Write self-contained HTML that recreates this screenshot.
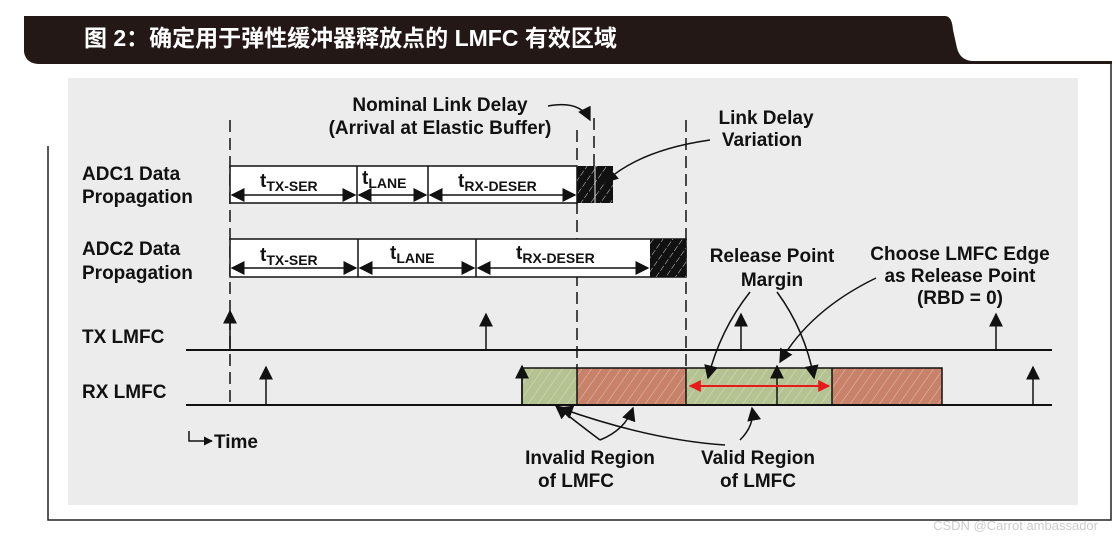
<!DOCTYPE html>
<html><head><meta charset="utf-8"><style>
html,body{margin:0;padding:0;background:#fff;width:1116px;height:540px;overflow:hidden}
svg{display:block}
text{font-family:"Liberation Sans",Arial,sans-serif;font-weight:bold;fill:#111}
</style></head><body>
<svg width="1116" height="540" viewBox="0 0 1116 540" xmlns="http://www.w3.org/2000/svg">
<defs>
<pattern id="hw" width="8" height="8" patternUnits="userSpaceOnUse" patternTransform="rotate(35)">
<line x1="0" y1="0" x2="0" y2="8" stroke="#fff" stroke-width="1" stroke-dasharray="3,2" opacity="0.8"/></pattern>
<pattern id="hl" width="8" height="8" patternUnits="userSpaceOnUse" patternTransform="rotate(35)">
<line x1="0" y1="0" x2="0" y2="8" stroke="#fff" stroke-width="1" opacity="0.5"/></pattern>
<marker id="ah" viewBox="0 0 10 10" refX="9" refY="5" markerWidth="9" markerHeight="9" markerUnits="userSpaceOnUse" orient="auto-start-reverse"><path d="M0,0 L10,5 L0,10z" fill="#111"/></marker>
<marker id="ab" viewBox="0 0 10 10" refX="9" refY="5" markerWidth="14" markerHeight="14" markerUnits="userSpaceOnUse" orient="auto-start-reverse"><path d="M0,0 L10,5 L0,10z" fill="#111"/></marker>
<marker id="ar" viewBox="0 0 10 10" refX="9" refY="5" markerWidth="12" markerHeight="12" markerUnits="userSpaceOnUse" orient="auto-start-reverse"><path d="M0,0 L10,5 L0,10z" fill="#e8191a"/></marker>
</defs>
<path d="M24,16 L945,16 Q952,16 953,30 L957,48 Q960,60 972,61 L1112,61 L1112,64 L40,64 Q26,64 24,52 Z" fill="#231815"/>
<text x="84" y="46" font-size="23" style="fill:#fff;font-family:'Liberation Sans','Noto Sans CJK SC',sans-serif">图 2：确定用于弹性缓冲器释放点的 LMFC 有效区域</text>
<path d="M1111,61 L1111,520 L48,520 L48,146" fill="none" stroke="#222" stroke-width="1.5"/>
<rect x="68" y="78" width="1010" height="427" fill="#ececec"/>
<g stroke="#111" stroke-width="1.5" stroke-dasharray="12,6">
<line x1="230" y1="120" x2="230" y2="405"/>
<line x1="577" y1="130" x2="577" y2="368"/>
<line x1="594" y1="118" x2="594" y2="166"/>
<line x1="686" y1="120" x2="686" y2="368"/>
</g>
<rect x="230" y="166" width="347" height="37" fill="#fff" stroke="#111" stroke-width="1.5"/>
<line x1="357" y1="166" x2="357" y2="203" stroke="#111" stroke-width="1.5"/>
<line x1="428" y1="166" x2="428" y2="203" stroke="#111" stroke-width="1.5"/>
<rect x="577" y="166" width="36" height="37" fill="#111"/><rect x="577" y="166" width="36" height="37" fill="url(#hw)"/>
<line x1="595" y1="166" x2="595" y2="203" stroke="#ececec" stroke-width="1"/>
<g stroke="#111" stroke-width="1.5" marker-start="url(#ab)" marker-end="url(#ab)">
<line x1="232" y1="195" x2="355" y2="195"/><line x1="359" y1="195" x2="426" y2="195"/><line x1="430" y1="195" x2="575" y2="195"/>
</g>
<text x="260" y="187" font-size="19">t<tspan font-size="14" dy="4">TX-SER</tspan></text>
<text x="362" y="184" font-size="19">t<tspan font-size="14" dy="4">LANE</tspan></text>
<text x="458" y="187" font-size="19">t<tspan font-size="14" dy="4">RX-DESER</tspan></text>
<rect x="230" y="239" width="456" height="38" fill="#fff" stroke="#111" stroke-width="1.5"/>
<line x1="358" y1="239" x2="358" y2="277" stroke="#111" stroke-width="1.5"/>
<line x1="476" y1="239" x2="476" y2="277" stroke="#111" stroke-width="1.5"/>
<rect x="650" y="239" width="36" height="38" fill="#111"/><rect x="650" y="239" width="36" height="38" fill="url(#hw)"/>
<g stroke="#111" stroke-width="1.5" marker-start="url(#ab)" marker-end="url(#ab)">
<line x1="232" y1="268" x2="356" y2="268"/><line x1="360" y1="268" x2="474" y2="268"/><line x1="478" y1="268" x2="648" y2="268"/>
</g>
<text x="260" y="261" font-size="19">t<tspan font-size="14" dy="4">TX-SER</tspan></text>
<text x="390" y="259" font-size="19">t<tspan font-size="14" dy="4">LANE</tspan></text>
<text x="516" y="259" font-size="19">t<tspan font-size="14" dy="4">RX-DESER</tspan></text>
<g font-size="19"><text x="82" y="180">ADC1 Data</text><text x="82" y="203">Propagation</text>
<text x="82" y="255">ADC2 Data</text><text x="82" y="279">Propagation</text>
<text x="82" y="343">TX LMFC</text><text x="82" y="398">RX LMFC</text>
<text x="214" y="448">Time</text></g>
<path d="M189,431 L189,441 L212,441" fill="none" stroke="#111" stroke-width="1.5" marker-end="url(#ah)"/>
<rect x="522" y="368" width="55" height="37" fill="#b5c291"/>
<rect x="577" y="368" width="109" height="37" fill="#c9826a"/>
<rect x="686" y="368" width="146" height="37" fill="#b5c291"/>
<rect x="832" y="368" width="110" height="37" fill="#c9826a"/>
<rect x="522" y="368" width="420" height="37" fill="url(#hl)"/>
<g fill="none" stroke="#111" stroke-width="1.5">
<rect x="522" y="368" width="420" height="37"/>
<line x1="577" y1="368" x2="577" y2="405"/><line x1="686" y1="368" x2="686" y2="405"/><line x1="832" y1="368" x2="832" y2="405"/>
</g>
<line x1="186" y1="350" x2="1052" y2="350" stroke="#111" stroke-width="2"/>
<line x1="186" y1="405" x2="1052" y2="405" stroke="#111" stroke-width="2"/>
<g stroke="#111" stroke-width="1.5" marker-end="url(#ab)">
<line x1="230" y1="350" x2="230" y2="311"/><line x1="486" y1="350" x2="486" y2="314"/><line x1="741" y1="350" x2="741" y2="314"/><line x1="996" y1="350" x2="996" y2="314"/>
<line x1="266" y1="405" x2="266" y2="367"/><line x1="522" y1="405" x2="522" y2="366"/><line x1="777" y1="405" x2="777" y2="366"/><line x1="1033" y1="405" x2="1033" y2="367"/>
</g>
<line x1="690" y1="386" x2="829" y2="386" stroke="#e8191a" stroke-width="2" marker-start="url(#ar)" marker-end="url(#ar)"/>
<g font-size="19" text-anchor="middle">
<text x="440" y="111">Nominal Link Delay</text><text x="440" y="134">(Arrival at Elastic Buffer)</text>
<text x="766" y="124">Link Delay</text><text x="762" y="146">Variation</text>
<text x="772" y="262">Release Point</text><text x="772" y="286">Margin</text>
<text x="960" y="260">Choose LMFC Edge</text><text x="960" y="282">as Release Point</text><text x="960" y="304">(RBD = 0)</text>
<text x="590" y="464">Invalid Region</text><text x="576" y="487">of LMFC</text>
<text x="758" y="464">Valid Region</text><text x="758" y="487">of LMFC</text>
</g>
<g fill="none" stroke="#111" stroke-width="1.5" marker-end="url(#ab)">
<path d="M548,106 Q580,100 590,120"/>
<path d="M710,140 Q640,150 605,182"/>
<path d="M750,292 Q720,330 708,378"/>
<path d="M777,292 Q805,330 814,378"/>
<path d="M876,278 Q810,310 780,362"/>
<path d="M600,440 Q580,425 556,406"/>
<path d="M600,440 Q625,430 633,408"/>
<path d="M725,445 Q650,440 560,408"/>
<path d="M740,440 Q755,425 752,408"/>
</g>
<text x="1098" y="530" font-size="13" text-anchor="end" style="fill:#ccc;font-weight:normal">CSDN @Carrot ambassador</text>
</svg>
</body></html>
